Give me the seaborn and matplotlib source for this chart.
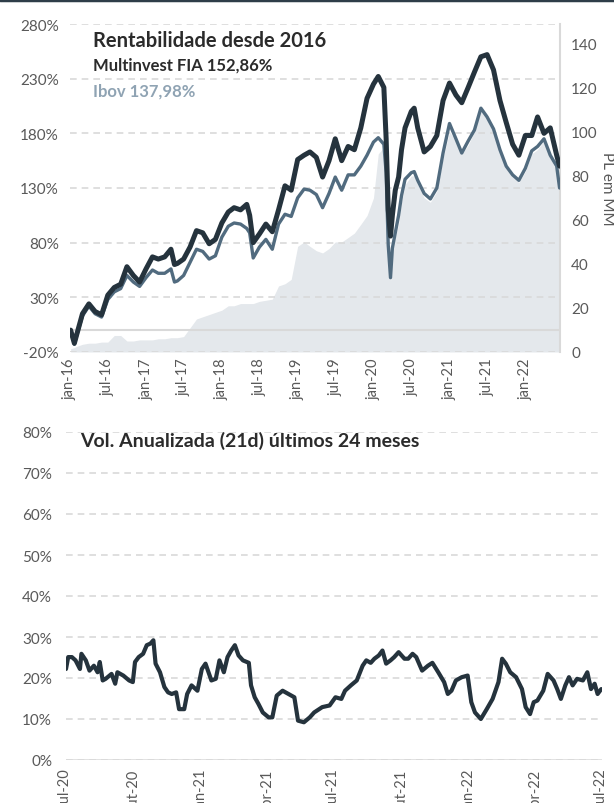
import pandas as pd
import matplotlib.pyplot as plt
import matplotlib.lines as mlines
import seaborn as sns

# Rentabilidade acumulada (%) e PL (R$ MM)
datas = ["2016-01-04", "2016-01-22", "2016-02-01", "2016-03-01", "2016-04-01", "2016-05-01",
         "2016-06-01", "2016-07-01", "2016-08-01", "2016-09-01", "2016-10-01", "2016-11-01",
         "2016-12-01", "2017-01-01", "2017-02-01", "2017-03-01", "2017-04-01", "2017-05-01",
         "2017-05-18", "2017-06-01", "2017-07-01", "2017-08-01", "2017-09-01", "2017-10-01",
         "2017-11-01", "2017-12-01", "2018-01-01", "2018-02-01", "2018-03-01", "2018-04-01",
         "2018-05-01", "2018-05-15", "2018-06-01", "2018-07-01", "2018-08-01", "2018-09-01",
         "2018-10-01", "2018-11-01", "2018-12-01", "2019-01-01", "2019-02-01", "2019-03-01",
         "2019-04-01", "2019-05-01", "2019-06-01", "2019-07-01", "2019-08-01", "2019-09-01",
         "2019-10-01", "2019-11-01", "2019-12-01", "2020-01-01", "2020-01-24", "2020-02-20",
         "2020-03-02", "2020-03-12", "2020-03-23", "2020-04-01", "2020-04-15", "2020-05-01",
         "2020-05-15", "2020-06-01", "2020-07-01", "2020-07-15", "2020-08-01", "2020-09-01",
         "2020-10-01", "2020-11-01", "2020-12-01", "2021-01-01", "2021-02-01", "2021-03-01",
         "2021-04-01", "2021-05-01", "2021-06-01", "2021-07-01", "2021-08-01", "2021-09-01",
         "2021-10-01", "2021-11-01", "2021-12-01", "2022-01-01", "2022-02-01", "2022-03-01",
         "2022-04-01", "2022-05-01", "2022-06-01", "2022-06-15"]
multinvest = [0, -12, -5, 15, 24, 17,
              14, 32, 39, 42, 58, 50,
              44, 56, 67, 65, 67, 74,
              60, 61, 65, 76, 91, 89,
              79, 83, 98, 108, 112, 110,
              115, 105, 80, 88, 97, 90,
              110, 132, 128, 156, 160, 163,
              158, 140, 155, 175, 155, 168,
              165, 185, 212, 225, 232, 222,
              175, 110, 86, 105, 128, 140,
              165, 185, 200, 203, 185, 163,
              168, 178, 210, 226, 215, 208,
              222, 236, 250, 252, 238, 210,
              190, 170, 160, 178, 178, 195,
              180, 185, 160, 150]
ibov = [0, -13, -6, 13, 22, 15,
        12, 28, 35, 38, 50, 44,
        40, 48, 55, 52, 52, 56,
        44, 45, 50, 62, 74, 72,
        65, 68, 85, 95, 98, 97,
        93, 89, 66, 76, 83, 74,
        97, 106, 104, 121, 129, 128,
        124, 112, 125, 140, 128, 142,
        142, 150, 160, 172, 176, 170,
        144, 78, 48, 75, 89, 105,
        123, 138, 144, 145, 137, 125,
        120, 130, 162, 189, 175, 162,
        173, 183, 203, 195, 184, 165,
        150, 142, 137, 148, 164, 168,
        175, 160, 150, 130]
pl_mm = [1.5, 2, 2.5, 3.5, 4, 4,
         4.5, 4.5, 7.5, 7.5, 5, 5,
         5.5, 5.5, 5.5, 6, 6, 6.5,
         6.5, 6.5, 7, 11, 15, 16,
         17, 18, 19, 21, 21, 22,
         22, 22, 22, 23, 23.5, 24,
         30, 31, 33, 48, 50, 48,
         46, 45, 47, 50, 50, 52,
         54, 58, 62, 70, 90, 93,
         80, 50, 32, 45, 52, 58,
         68, 76, 80, 80, 76, 70,
         68, 73, 88, 100, 96, 90,
         94, 100, 112, 108, 102, 92,
         84, 80, 77, 82, 90, 92,
         96, 88, 82, 74]

# Volatilidade anualizada (21d), %
vol_datas = ["2020-07-01", "2020-07-04", "2020-07-09", "2020-07-14", "2020-07-20", "2020-07-22",
             "2020-07-28", "2020-08-02", "2020-08-08", "2020-08-13", "2020-08-16", "2020-08-20",
             "2020-08-24", "2020-09-01", "2020-09-06", "2020-09-09", "2020-09-17", "2020-09-25",
             "2020-09-30", "2020-10-03", "2020-10-08", "2020-10-14", "2020-10-19", "2020-10-24",
             "2020-10-28", "2020-10-31", "2020-11-06", "2020-11-12", "2020-11-17", "2020-11-22",
             "2020-11-28", "2020-12-02", "2020-12-09", "2020-12-13", "2020-12-19", "2020-12-27",
             "2021-01-02", "2021-01-07", "2021-01-15", "2021-01-21", "2021-01-26", "2021-02-01",
             "2021-02-06", "2021-02-11", "2021-02-16", "2021-02-21", "2021-02-27", "2021-03-07",
             "2021-03-10", "2021-03-15", "2021-03-20", "2021-03-26", "2021-04-03", "2021-04-08",
             "2021-04-14", "2021-04-22", "2021-04-30", "2021-05-08", "2021-05-13", "2021-05-21",
             "2021-05-29", "2021-06-04", "2021-06-15", "2021-06-25", "2021-07-03", "2021-07-11",
             "2021-07-16", "2021-07-24", "2021-08-01", "2021-08-09", "2021-08-14", "2021-08-20",
             "2021-08-25", "2021-08-31", "2021-09-05", "2021-09-10", "2021-09-16", "2021-09-21",
             "2021-09-27", "2021-10-05", "2021-10-10", "2021-10-16", "2021-10-21", "2021-10-29",
             "2021-11-06", "2021-11-12", "2021-11-20", "2021-11-28", "2021-12-03", "2021-12-08",
             "2021-12-14", "2021-12-22", "2021-12-30", "2022-01-04", "2022-01-09", "2022-01-17",
             "2022-01-25", "2022-02-02", "2022-02-10", "2022-02-15", "2022-02-20", "2022-02-26",
             "2022-03-06", "2022-03-14", "2022-03-19", "2022-03-25", "2022-03-30", "2022-04-04",
             "2022-04-12", "2022-04-18", "2022-04-26", "2022-05-01", "2022-05-06", "2022-05-12",
             "2022-05-17", "2022-05-22", "2022-05-28", "2022-06-05", "2022-06-11", "2022-06-16",
             "2022-06-21", "2022-06-25", "2022-06-30"]
vol = [22.2, 25.1, 25.1, 24.3, 22.2, 25.9,
       24.3, 21.8, 23.0, 21.4, 23.9, 19.4,
       19.8, 21.0, 18.6, 21.4, 20.6, 19.4,
       19.0, 23.9, 25.1, 25.9, 28.0, 28.4,
       29.2, 23.5, 21.4, 17.8, 16.5, 16.1,
       16.5, 12.4, 12.4, 16.1, 18.2, 16.9,
       22.2, 23.5, 19.4, 19.8, 24.3, 21.4,
       25.1, 26.7, 28.0, 25.5, 24.3, 23.7,
       18.2, 15.3, 13.7, 11.6, 10.4, 10.4,
       15.7, 16.9, 16.1, 15.3, 9.6, 9.2,
       10.4, 11.6, 12.9, 13.3, 15.3, 14.9,
       16.9, 18.2, 19.4, 23.0, 24.3, 23.7,
       24.7, 25.5, 26.7, 23.5, 24.3, 25.1,
       26.3, 24.7, 24.7, 25.9, 25.1, 21.8,
       23.0, 23.7, 21.4, 19.0, 16.1, 16.9,
       19.4, 20.2, 20.6, 14.1, 11.6, 10.0,
       12.4, 14.9, 19.0, 24.7, 23.5, 21.4,
       20.2, 17.3, 12.9, 11.2, 14.1, 14.5,
       16.9, 21.0, 19.4, 17.3, 14.9, 18.2,
       20.2, 18.2, 19.8, 19.4, 21.4, 17.3,
       18.6, 16.1, 17.3]

top_ticks = ["2016-01-01", "2016-07-01", "2017-01-01", "2017-07-01", "2018-01-01", "2018-07-01",
             "2019-01-01", "2019-07-01", "2020-01-01", "2020-07-01", "2021-01-01", "2021-07-01",
             "2022-01-01"]
top_labels = ["jan-16", "jul-16", "jan-17", "jul-17", "jan-18", "jul-18", "jan-19", "jul-19",
              "jan-20", "jul-20", "jan-21", "jul-21", "jan-22"]
vol_ticks = ["2020-07-01", "2020-10-01", "2021-01-01", "2021-04-01", "2021-07-01",
             "2021-10-01", "2022-01-01", "2022-04-01", "2022-07-01"]
vol_labels = ["jul-20", "out-20", "jan-21", "abr-21", "jul-21", "out-21", "jan-22", "abr-22", "jul-22"]

df = pd.DataFrame({"data": pd.to_datetime(datas), "multinvest": multinvest,
                   "ibov": ibov, "pl": pl_mm})
df_vol = pd.DataFrame({"data": pd.to_datetime(vol_datas), "vol": vol})

sns.set_style("white")
plt.rcParams["font.family"] = ["Lato", "DejaVu Sans"]

escuro = "#25333d"
azul = "#516b7f"
cinza_txt = "#595959"
grade = "#d9d9d9"

fig = plt.figure(figsize=(6.14, 8.04), dpi=100)

# ---- rentabilidade desde 2016 ----
ax = fig.add_axes([70 / 614, 1 - 353 / 804, 490 / 614, 328 / 804])
ax2 = ax.twinx()
ax.set_zorder(2)
ax2.set_zorder(1)
ax.patch.set_visible(False)

ax2.fill_between(df["data"], df["pl"], 0, color="#e4e8ec", linewidth=0)
ax2.set_ylim(0, 149)
ax2.set_yticks(range(0, 141, 20))
ax2.set_ylabel("PL em MM", rotation=270, color=cinza_txt, fontsize=11, labelpad=12)

ax.yaxis.grid(True, linestyle=(0, (4, 3)), color=grade, linewidth=1.2)
ax.axhline(0, color=grade, linewidth=1.5)
sns.lineplot(data=df, x="data", y="ibov", ax=ax, color=azul, linewidth=2.4)
sns.lineplot(data=df, x="data", y="multinvest", ax=ax, color=escuro, linewidth=3.6)
ax.set_ylim(-20, 280)
ax.set_yticks(range(-20, 281, 50))
ax.set_yticklabels([f"{v}%" for v in range(-20, 281, 50)])
ax.set_xlim(pd.Timestamp("2016-01-01"), pd.Timestamp("2022-06-17"))
ax.set_xticks(pd.to_datetime(top_ticks))
ax.set_xticklabels(top_labels, rotation=90)
ax.set_xlabel("")
ax.set_ylabel("")

for a in (ax, ax2):
    for s in a.spines.values():
        s.set_visible(False)
    a.tick_params(length=0, labelcolor=cinza_txt, labelsize=11)
ax2.spines["right"].set_visible(True)
ax2.spines["right"].set_color(grade)
ax2.spines["right"].set_linewidth(1.5)
ax.tick_params(axis="x", labelsize=10.5, pad=4)
ax.tick_params(axis="y", pad=8)
ax2.tick_params(axis="y", pad=8)

fig.text(93 / 614, 1 - 41 / 804, "Rentabilidade desde 2016", fontsize=14.5,
         fontweight="bold", color="#2b2b2b", va="center")
fig.text(93 / 614, 1 - 66 / 804, "Multinvest FIA 152,86%", fontsize=12,
         fontweight="bold", color="#2b2b2b", va="center")
fig.text(93 / 614, 1 - 92 / 804, "Ibov 137,98%", fontsize=12,
         fontweight="bold", color="#8fa3b3", va="center")

# ---- volatilidade ----
ax3 = fig.add_axes([66 / 614, 1 - 761 / 804, 536 / 614, 328 / 804])
ax3.yaxis.grid(True, linestyle=(0, (4, 3)), color=grade, linewidth=1.2)
ax3.axhline(0, color=grade, linewidth=1.8)
sns.lineplot(data=df_vol, x="data", y="vol", ax=ax3, color=escuro, linewidth=3.0)
ax3.set_ylim(0, 80)
ax3.set_yticks(range(0, 81, 10))
ax3.set_yticklabels([f"{v}%" for v in range(0, 81, 10)])
ax3.set_xlim(pd.Timestamp("2020-07-01"), pd.Timestamp("2022-07-01"))
ax3.set_xticks(pd.to_datetime(vol_ticks))
ax3.set_xticklabels(vol_labels, rotation=90)
ax3.set_xlabel("")
ax3.set_ylabel("")
for s in ax3.spines.values():
    s.set_visible(False)
ax3.tick_params(length=0, labelcolor=cinza_txt, labelsize=11)
ax3.tick_params(axis="x", labelsize=10.5, pad=6)
ax3.tick_params(axis="y", pad=10)

fig.text(80 / 614, 1 - 441 / 804, "Vol. Anualizada (21d) últimos 24 meses", fontsize=14,
         fontweight="bold", color="#2b2b2b", va="center")

fig.add_artist(mlines.Line2D([0, 1], [0.999, 0.999], transform=fig.transFigure,
                             color="#2e3d48", linewidth=2.5))

fig.savefig("out.png", dpi=100)
